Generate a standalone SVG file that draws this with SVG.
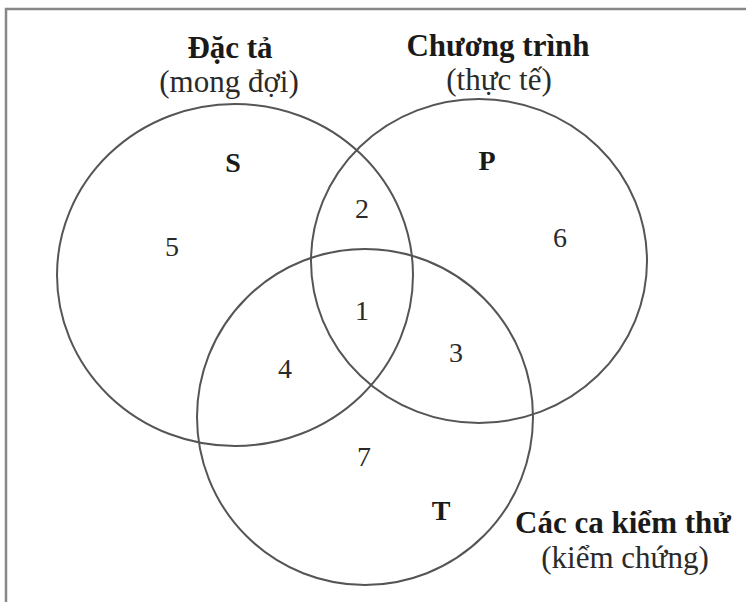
<svg xmlns="http://www.w3.org/2000/svg" width="746" height="602" viewBox="0 0 746 602">
<style>
.c{fill:none;stroke:#555;stroke-width:2}
.b{font-family:"Liberation Serif","Times New Roman",serif;font-weight:bold;fill:#1a1a1a;text-anchor:middle}
.r{font-family:"Liberation Serif","Times New Roman",serif;fill:#2a2a2a;text-anchor:middle}
.h{font-size:31px}
.n{font-size:28px}
</style>
<rect width="746" height="602" fill="#fff"/>
<path d="M6,602 V9 H746" fill="none" stroke="#888" stroke-width="2.5"/>
<g id="S">
<ellipse class="c" cx="235" cy="275" rx="178" ry="171"/>
<text class="b h" x="230" y="58">Đặc tả</text>
<text class="r h" x="229" y="92">(mong đợi)</text>
<text class="b n" x="233" y="172">S</text>
</g>
<g id="P">
<ellipse class="c" cx="479" cy="261" rx="168" ry="162"/>
<text class="b h" x="498" y="56">Chương trình</text>
<text class="r h" x="499" y="90">(thực tế)</text>
<text class="b n" x="487" y="170">P</text>
</g>
<g id="T">
<circle class="c" cx="365" cy="417" r="168"/>
<text class="b h" x="623" y="533">Các ca kiểm thử</text>
<text class="r h" x="625" y="568">(kiểm chứng)</text>
<text class="b n" x="441" y="520">T</text>
</g>
<g id="regions">
<text class="r n" x="172" y="256">5</text>
<text class="r n" x="362" y="218">2</text>
<text class="r n" x="560" y="247">6</text>
<text class="r n" x="362" y="320">1</text>
<text class="r n" x="456" y="362">3</text>
<text class="r n" x="285" y="378">4</text>
<text class="r n" x="364" y="466">7</text>
</g>
<g id="connectors"/>
</svg>
